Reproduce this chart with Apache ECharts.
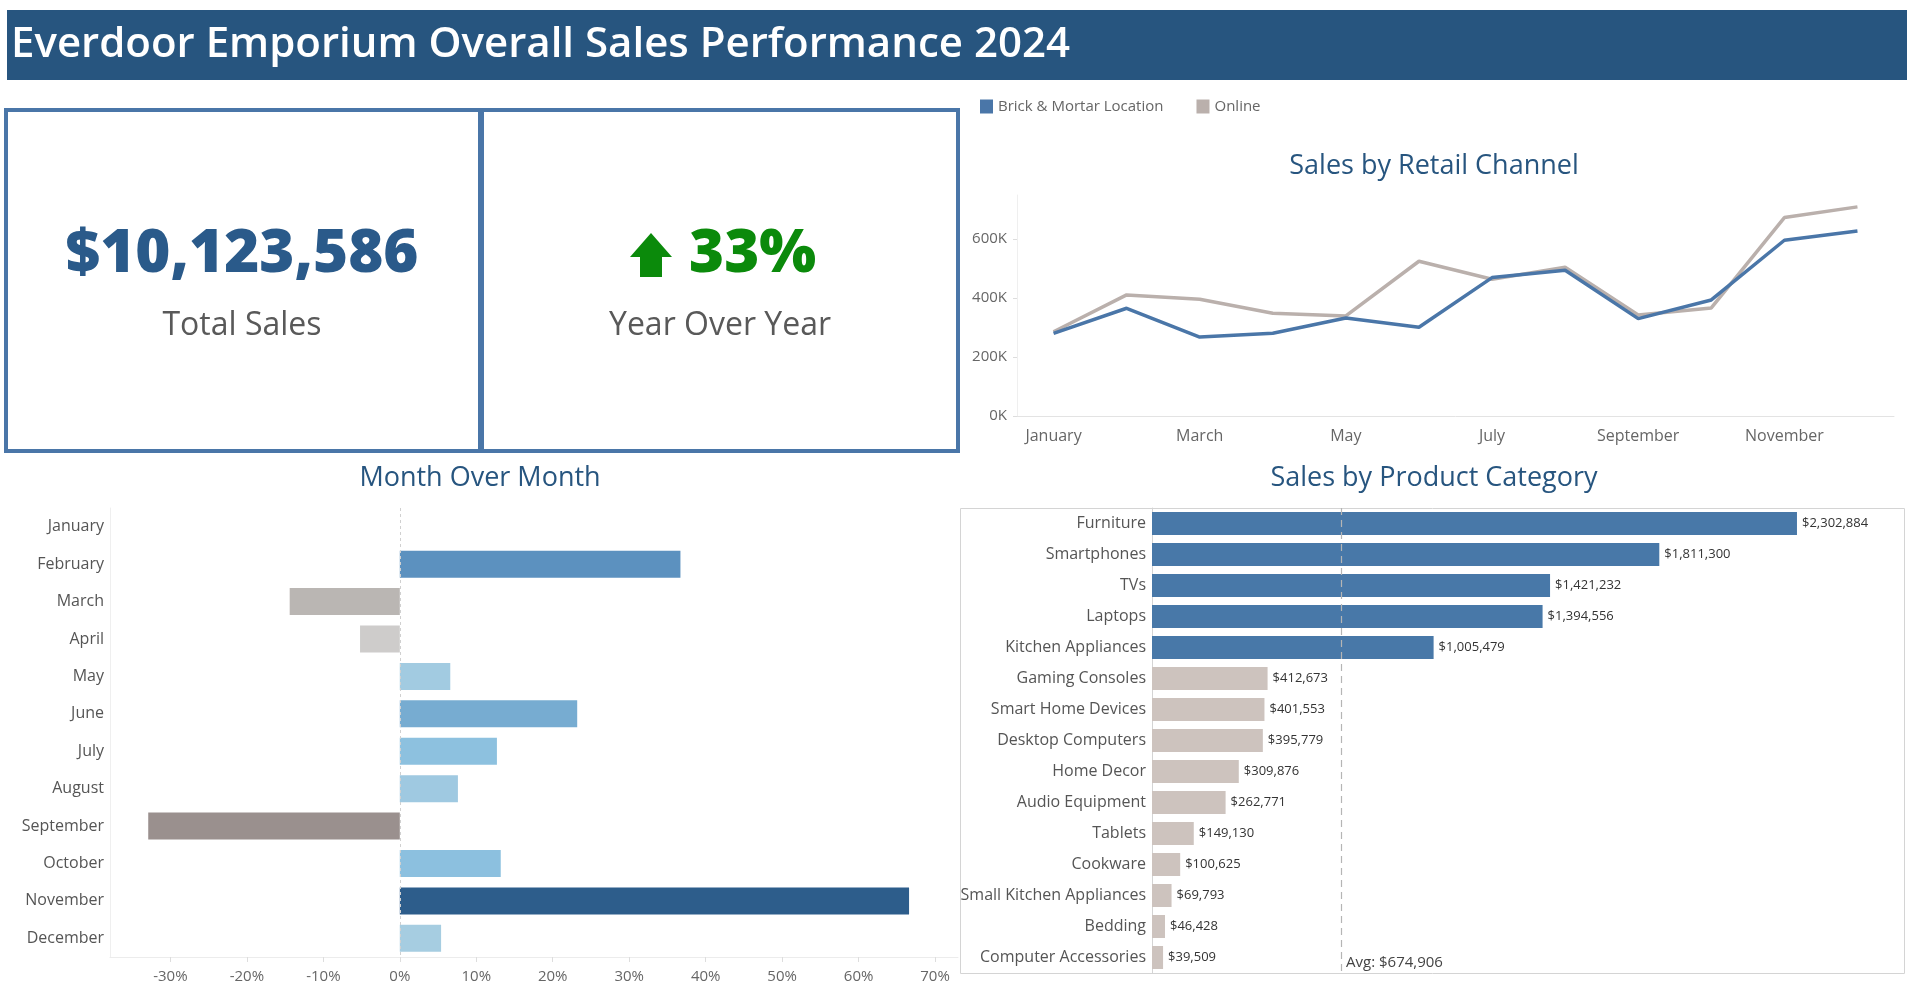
<!doctype html>
<html lang="en">
<head>
    <meta charset="utf-8">
    <title>Everdoor Emporium Overall Sales Performance 2024</title>
    <script src="https://cdn.jsdelivr.net/npm/echarts@6/dist/echarts.min.js"></script>
    <style>
        html, body {margin: 0; padding: 0; background: #ffffff;}
        #main {width: 1910px; height: 992px;}
    </style>
</head>
<body>
<div id="main"></div>
<script>
    // ---- data ----
    const totalSales = 10123586;
    const yearOverYear = 33;

    const months = ["January", "February", "March", "April", "May", "June",
        "July", "August", "September", "October", "November", "December"];
    const channelNames = ["Brick & Mortar Location", "Online"];
    const brickSales = [280700, 365600, 268000, 280700, 332800, 301000, 469700, 494600, 330500, 393900, 596500, 628200];
    const onlineSales = [286000, 410900, 396000, 348600, 339600, 525200, 464000, 504800, 343000, 366700, 673500, 709700];

    // month over month change, in percent (January has none)
    const momChange = [null, 36.7, -14.4, -5.2, 6.6, 23.2, 12.7, 7.6, -32.9, 13.2, 66.6, 5.4];

    const categories = ["Furniture", "Smartphones", "TVs", "Laptops", "Kitchen Appliances", "Gaming Consoles",
        "Smart Home Devices", "Desktop Computers", "Home Decor", "Audio Equipment", "Tablets", "Cookware",
        "Small Kitchen Appliances", "Bedding", "Computer Accessories"];
    const categorySales = [2302884, 1811300, 1421232, 1394556, 1005479, 412673, 401553, 395779, 309876,
        262771, 149130, 100625, 69793, 46428, 39509];

    // ---- helpers ----
    const FONT = "'Open Sans', 'Noto Sans', sans-serif";
    const money = v => "$" + Math.round(v).toLocaleString("en-US");
    const avgSales = categorySales.reduce((a, b) => a + b, 0) / categorySales.length;

    const mix = (c1, c2, t) => {
        const a = [1, 3, 5].map(i => parseInt(c1.substr(i, 2), 16));
        const b = [1, 3, 5].map(i => parseInt(c2.substr(i, 2), 16));
        return "rgb(" + a.map((v, i) => Math.round(v + (b[i] - v) * t)).join(",") + ")";
    };
    // colour ramps like tableau's diverging palette: grey for drops, blue for growth
    const growRamp = [[0, "#b9d6e3"], [13, "#8cc0df"], [37, "#5b90bf"], [67, "#2c5c8a"]];
    const dropRamp = [[0, "#d9d8d8"], [14, "#bbb7b4"], [33, "#9a908e"]];
    const ramp = (stops, v) => {
        for (let i = 1; i < stops.length; i++) {
            if (v <= stops[i][0]) {
                const t = (v - stops[i - 1][0]) / (stops[i][0] - stops[i - 1][0]);
                return mix(stops[i - 1][1], stops[i][1], t);
            }
        }
        return stops[stops.length - 1][1];
    };
    const momColor = v => v < 0 ? ramp(dropRamp, -v) : ramp(growRamp, v);

    const chart = echarts.init(document.getElementById("main"));

    const sectionTitle = (text, x, y) => ({
        type: "text", x: x, y: y,
        style: {text: text, fill: "#27557f", font: "500 27px " + FONT, textAlign: "center", textVerticalAlign: "middle"}
    });

    const option = {
        animation: false,
        textStyle: {fontFamily: FONT},
        graphic: [
            // header bar
            {type: "rect", shape: {x: 7, y: 10, width: 1900, height: 70}, style: {fill: "#27557f"}},
            {type: "text", x: 11, y: 45, style: {text: "Everdoor Emporium Overall Sales Performance 2024",
                    fill: "#ffffff", font: "600 42px " + FONT, textVerticalAlign: "middle"}},
            // KPI boxes
            {type: "rect", shape: {x: 6, y: 110, width: 474, height: 341}, style: {fill: "none", stroke: "#4a76a8", lineWidth: 4}},
            {type: "rect", shape: {x: 482, y: 110, width: 476, height: 341}, style: {fill: "none", stroke: "#4a76a8", lineWidth: 4}},
            {type: "text", x: 242, y: 255, style: {text: money(totalSales), fill: "#2a5a8a",
                    font: "800 60px " + FONT, textAlign: "center", textVerticalAlign: "middle"}},
            {type: "text", x: 242, y: 326, style: {text: "Total Sales", fill: "#595959",
                    font: "32px " + FONT, textAlign: "center", textVerticalAlign: "middle"}},
            {type: "polygon", shape: {points: [[651, 233], [672, 257], [662, 257], [662, 277], [640, 277], [640, 257], [630, 257]]},
                style: {fill: "#0b8a0b"}},
            {type: "text", x: 689, y: 255, style: {text: yearOverYear + "%", fill: "#0b8a0b",
                    font: "800 60px " + FONT, textVerticalAlign: "middle"}},
            {type: "text", x: 720, y: 326, style: {text: "Year Over Year", fill: "#595959",
                    font: "32px " + FONT, textAlign: "center", textVerticalAlign: "middle"}},
            // section titles
            sectionTitle("Sales by Retail Channel", 1434, 166),
            sectionTitle("Month Over Month", 480, 478),
            sectionTitle("Sales by Product Category", 1434, 478),
            // frame round the product chart
            {type: "rect", shape: {x: 960.5, y: 508.5, width: 944, height: 465}, style: {fill: "none", stroke: "#d4d4d4", lineWidth: 1}}
        ],
        legend: {
            data: channelNames,
            left: 975, top: 94,
            icon: "rect", itemWidth: 13, itemHeight: 14, itemGap: 33,
            textStyle: {color: "#666", fontSize: 15}
        },
        grid: [
            {left: 1017, right: 16, top: 195, bottom: 576},
            {left: 110, right: 952, top: 508, bottom: 35},
            {left: 1152, right: 6, top: 508, bottom: 19}
        ],
        xAxis: [
            {
                gridIndex: 0, type: "category", data: months, boundaryGap: true,
                axisLine: {lineStyle: {color: "#e3e3e3"}},
                axisTick: {alignWithLabel: true, interval: 0, length: 5, lineStyle: {color: "#dddddd"}},
                axisLabel: {interval: 1, color: "#666", fontSize: 16, margin: 12}
            },
            {
                gridIndex: 1, type: "value", min: -37.9, max: 73, splitNumber: 11,
                axisLine: {show: true, lineStyle: {color: "#ececec"}},
                axisTick: {show: true, length: 5, lineStyle: {color: "#dddddd"}},
                splitLine: {show: false},
                axisLabel: {color: "#666", fontSize: 15, margin: 12, showMinLabel: false, showMaxLabel: false,
                    formatter: v => Math.round(v) + "%"}
            },
            {
                gridIndex: 2, type: "value", min: 0, max: 2685000,
                axisLine: {show: false}, axisTick: {show: false}, axisLabel: {show: false}, splitLine: {show: false}
            }
        ],
        yAxis: [
            {
                gridIndex: 0, type: "value", min: 0, max: 750000, interval: 200000,
                axisLine: {show: true, lineStyle: {color: "#efefef"}},
                axisTick: {show: true, length: 4, lineStyle: {color: "#dddddd"}},
                splitLine: {show: false},
                axisLabel: {color: "#666", fontSize: 15, margin: 10, showMaxLabel: false,
                    formatter: v => (v / 1000) + "K"}
            },
            {
                gridIndex: 1, type: "category", data: months, inverse: true,
                axisLine: {show: true, onZero: false, lineStyle: {color: "#efefef"}},
                axisTick: {show: false},
                axisLabel: {color: "#555", fontSize: 16, margin: 6}
            },
            {
                gridIndex: 2, type: "category", data: categories, inverse: true,
                axisLine: {show: true, lineStyle: {color: "#d4d4d4"}},
                axisTick: {show: false},
                axisLabel: {color: "#555", fontSize: 16, margin: 6}
            }
        ],
        series: [
            {
                name: channelNames[0], type: "line", xAxisIndex: 0, yAxisIndex: 0, data: brickSales,
                symbol: "none", color: "#4a76a8", lineStyle: {width: 3.5}, z: 3
            },
            {
                name: channelNames[1], type: "line", xAxisIndex: 0, yAxisIndex: 0, data: onlineSales,
                symbol: "none", color: "#bab0ac", lineStyle: {width: 3.5}, z: 2
            },
            {
                type: "bar", xAxisIndex: 1, yAxisIndex: 1, data: momChange, barWidth: 27,
                itemStyle: {color: p => momColor(p.value)},
                markLine: {
                    silent: true, symbol: "none", label: {show: false},
                    lineStyle: {color: "#d0d0d0", type: [3, 3], width: 1},
                    data: [{xAxis: 0}]
                }
            },
            {
                type: "bar", xAxisIndex: 2, yAxisIndex: 2, data: categorySales, barWidth: 23,
                itemStyle: {color: p => p.value > avgSales ? "#4878a8" : "#cdc3be"},
                label: {show: true, position: "right", distance: 5, color: "#333", fontSize: 13,
                    formatter: p => money(p.value)},
                markLine: {
                    silent: true, symbol: "none",
                    lineStyle: {color: "#b5b5b5", type: [7, 5], width: 1.2},
                    label: {show: true, position: "end", distance: [0, -10], align: "left", verticalAlign: "middle",
                        padding: [0, 0, 0, 5], color: "#444", fontSize: 15,
                        formatter: p => "Avg: " + money(p.value)},
                    data: [{xAxis: avgSales}]
                }
            }
        ]
    };

    chart.setOption(option);
</script>
</body>
</html>
